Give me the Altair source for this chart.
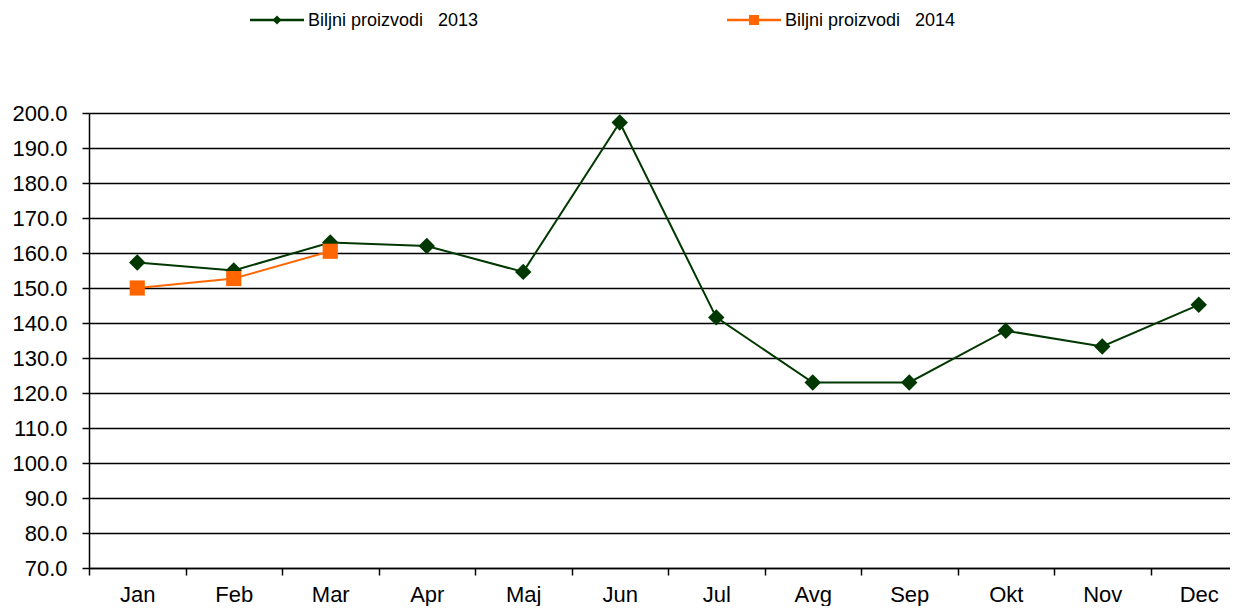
import altair as alt
import pandas as pd

months = ["Jan", "Feb", "Mar", "Apr", "Maj", "Jun", "Jul", "Avg", "Sep", "Okt", "Nov", "Dec"]
values_2013 = [157.3, 155.0, 163.0, 162.0, 154.6, 197.3, 141.6, 123.0, 123.0, 137.8, 133.3, 145.2]
values_2014 = [150.0, 152.7, 160.5]
series_names = ["Biljni proizvodi\u00a0\u00a0\u00a02013", "Biljni proizvodi\u00a0\u00a0\u00a02014"]
series_colors = ["#013801", "#ff6600"]
series_shapes = ["diamond", "square"]
y_ticks = list(range(70, 201, 10))

rows = []
for m, v in zip(months, values_2013):
    rows.append({"month": m, "value": v, "series": series_names[0]})
for m, v in zip(months, values_2014):
    rows.append({"month": m, "value": v, "series": series_names[1]})
df = pd.DataFrame(rows)
legend_df = pd.DataFrame({"series": series_names})

FONT = "Liberation Sans"

x_enc = alt.X(
    "month:N",
    sort=months,
    bandPosition=0.5,
    scale=alt.Scale(type="band", paddingInner=0, paddingOuter=0),
    axis=alt.Axis(
        title=None, labelAngle=0, tickBand="extent", grid=False,
        labelFontSize=22, labelFont=FONT, labelColor="black", labelPadding=9,
        tickColor="black", tickSize=7, tickWidth=1.5,
        domainColor="black", domainWidth=1.5,
    ),
)
y_enc = alt.Y(
    "value:Q",
    scale=alt.Scale(domain=[70, 200], nice=False, zero=False),
    axis=alt.Axis(
        title=None, values=y_ticks, format=".1f",
        labelFontSize=22, labelFont=FONT, labelColor="black", labelPadding=15,
        tickColor="black", tickSize=7, tickWidth=1.5,
        domainColor="black", domainWidth=1.5,
        grid=True, gridColor="black", gridWidth=1.6, gridOpacity=1,
    ),
)

lines = alt.Chart(df).mark_line(strokeWidth=2).encode(
    x=x_enc,
    y=y_enc,
    color=alt.Color("series:N", scale=alt.Scale(domain=series_names, range=series_colors), legend=None),
)

pts_2013 = alt.Chart(df).transform_filter(
    alt.datum.series == series_names[0]
).mark_point(filled=True, opacity=1, strokeWidth=0, shape="diamond", size=270, color=series_colors[0]).encode(
    x=x_enc, y=y_enc
)
pts_2014 = alt.Chart(df).transform_filter(
    alt.datum.series == series_names[1]
).mark_point(filled=True, opacity=1, strokeWidth=0, shape="square", size=230, color=series_colors[1]).encode(
    x=x_enc, y=y_enc
)

# hand-built legend above the plot (line + marker + label per series)
legend_layers = []
legend_x0 = [161, 638]
legend_y = -93
for i, name in enumerate(series_names):
    base = alt.Chart(legend_df).transform_filter(alt.datum.series == name)
    x0 = legend_x0[i]
    legend_layers.append(
        base.mark_rule(color=series_colors[i], strokeWidth=2.5).encode(
            x=alt.value(x0), x2=alt.value(x0 + 54), y=alt.value(legend_y)
        )
    )
    legend_layers.append(
        base.mark_point(filled=True, opacity=1, strokeWidth=0, shape=series_shapes[i],
                        size=[80, 100][i], color=series_colors[i]).encode(
            x=alt.value(x0 + 27), y=alt.value(legend_y)
        )
    )
    legend_layers.append(
        base.mark_text(align="left", baseline="middle", font=FONT, fontSize=18, color="black").encode(
            text="series:N", x=alt.value(x0 + 58), y=alt.value(legend_y + 1)
        )
    )

chart = alt.layer(lines, pts_2013, pts_2014, *legend_layers).properties(
    width=1158,
    height=455,
    padding={"left": 81, "top": 105, "right": -17, "bottom": 38},
    autosize=alt.AutoSizeParams(type="none"),
).configure_view(stroke=None)

chart.save("out.html", embed_options={"renderer": "svg", "actions": False})
